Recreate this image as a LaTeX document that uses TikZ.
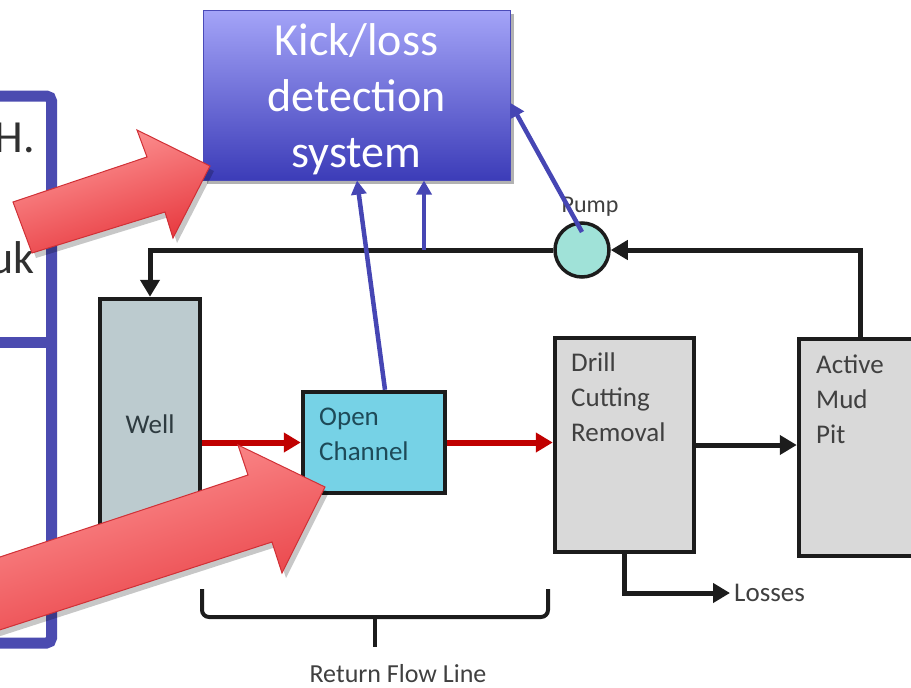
\documentclass[tikz,border=0pt]{standalone}
\usepackage{fontspec}
\setmainfont{Carlito}
\usetikzlibrary{arrows.meta,shadows}

\definecolor{frameblue}{HTML}{4B4BB0}
\definecolor{kicktop}{HTML}{A4A4F8}
\definecolor{kickbot}{HTML}{3C3CB8}
\definecolor{kickedge}{HTML}{4A4AB8}
\definecolor{senseblue}{HTML}{4646B4}
\definecolor{flowblack}{HTML}{1C1C1C}
\definecolor{returnred}{HTML}{C00000}
\definecolor{wellfill}{HTML}{BCCBCF}
\definecolor{chanfill}{HTML}{76D2E6}
\definecolor{greyfill}{HTML}{D9D9D9}
\definecolor{pumpfill}{HTML}{A0E2D8}
\definecolor{labelgrey}{HTML}{404040}
\definecolor{welltext}{HTML}{2E3B40}
\definecolor{chantext}{HTML}{1E4A58}
\definecolor{bodytext}{HTML}{303030}
\definecolor{arrowtop}{HTML}{FF9C9C}
\definecolor{arrowbot}{HTML}{E6343A}
\definecolor{arrowedge}{HTML}{D03036}

\begin{document}
\begin{tikzpicture}[x=1pt,y=-1pt,
  unit/.style={draw=flowblack, line width=4.5pt, inner sep=0pt, line join=miter},
  flow/.style={draw=flowblack, line width=5pt, line join=miter,
    -{Triangle[length=17pt,width=19pt]}},
  returnflow/.style={draw=returnred, line width=6pt,
    -{Triangle[length=17pt,width=19pt]}},
  sense/.style={draw=senseblue, line width=4.5pt,
    -{Triangle[length=14pt,width=15pt]}},
  labeltext/.style={font=\fontsize{27}{35}\selectfont, align=left},
  bigarrow/.style={draw=arrowedge, line width=1pt, line join=miter,
    top color=arrowtop, bottom color=arrowbot, shading angle=18},
  arrowshadow/.style={fill=black, opacity=0.22, shift={(4,5)}},
  frameline/.style={draw=frameblue, line width=11pt}
]
\useasboundingbox (0,0) rectangle (911,688);
\clip (0,0) rectangle (911,688);

% side panel frame with its cut-off text
\draw[frameline, rounded corners=5pt] (-20,96) -- (51.5,96) -- (51.5,643) -- (-20,643);
\draw[frameline] (-20,342.5) -- (51.5,342.5);
\node[anchor=base east, inner sep=0pt, text=bodytext,
  font=\fontsize{46}{56}\selectfont] (hdot) at (35,152) {H.};
\node[anchor=base east, inner sep=0pt, text=bodytext,
  font=\fontsize{46}{56}\selectfont] (uk) at (35,273) {uk};

% detection system
\node[draw=kickedge, line width=1pt, top color=kicktop, bottom color=kickbot,
  minimum width=307pt, minimum height=170pt, inner sep=0pt,
  drop shadow={shadow xshift=4pt, shadow yshift=-4pt, opacity=0.3, fill=black}]
  (kick) at (356.5,95) {};
\node[text=white, align=center, font=\fontsize{46}{56}\selectfont]
  (kicklabel) at (356.5,99) {Kick/loss\\detection\\system};

% process units
\node[unit, fill=wellfill, minimum width=100pt, minimum height=226pt] (well) at (150,412) {};
\node[text=welltext, font=\fontsize{27}{35}\selectfont] (welllabel) at (150,424) {Well};

\node[unit, fill=chanfill, minimum width=142pt, minimum height=101pt] (och) at (374,442.5) {};
\node[labeltext, text=chantext, anchor=west, inner sep=0pt] (ochlabel) at (319,434) {Open\\Channel};

\node[unit, fill=greyfill, minimum width=139pt, minimum height=214pt] (drill) at (624.5,445) {};
\node[labeltext, text=labelgrey, anchor=west, inner sep=0pt] (drilllabel) at (571,397) {Drill\\Cutting\\Removal};

\node[unit, fill=greyfill, minimum width=122pt, minimum height=217pt] (pit) at (860,447.5) {};
\node[labeltext, text=labelgrey, anchor=west, inner sep=0pt] (pitlabel) at (816,399) {Active\\Mud\\Pit};

\node[text=labelgrey, font=\fontsize{24}{28}\selectfont] (pumplabel) at (590,207) {Pump};
\node[circle, draw=flowblack, line width=3.5pt, fill=pumpfill, minimum size=54pt, inner sep=0pt] (pump) at (582,250) {};

\node[anchor=west, inner sep=4pt, text=labelgrey, font=\fontsize{27}{35}\selectfont] (losses) at (730,593) {Losses};

% mud circulation
\draw[flow] (pit.north) |- (pump.east);
\draw[flow] (pump.west) -| (well.north);
\draw[flow] (drill.east) -- (drill.east -| pit.west);
\draw[flow] (drill.south) |- (losses.west);

% return flow
\draw[returnflow] (och.west -| well.east) -- (och.west);
\draw[returnflow] (och.east) -- (och.east -| drill.west);

% measurement signals to the detection system
\coordinate (tap) at (424,250);
\draw[sense] ([xshift=11pt]och.north) -- ([xshift=0.5pt]kick.south);
\draw[sense] (tap) -- (tap |- kick.south);
\draw[sense] ([yshift=18pt]pump.center) -- ([yshift=-8pt]kick.east);

% return flow line brace
\draw[flowblack, line width=4pt, rounded corners=7pt] (202,589) |- (548,617) -- (548,589);
\draw[flowblack, line width=4pt] (375,617) -- (375,647);
\node[text=labelgrey, font=\fontsize{26}{32}\selectfont] (returnlabel) at (398,674) {Return Flow Line};

% block arrows
\fill[arrowshadow] (13,202) -- (147,157) -- (137,130) -- (210,166) -- (173,238) -- (165,212) -- (32,253) -- cycle;
\path[bigarrow] (13,202) -- (147,157) -- (137,130) -- (210,166) -- (173,238) -- (165,212) -- (32,253) -- cycle;

\fill[arrowshadow] (-50,573.5) -- (248,475) -- (238,445) -- (325,487) -- (282,573) -- (272,542) -- (-50,646) -- cycle;
\path[bigarrow] (-50,573.5) -- (248,475) -- (238,445) -- (325,487) -- (282,573) -- (272,542) -- (-50,646) -- cycle;
\end{tikzpicture}
\end{document}
